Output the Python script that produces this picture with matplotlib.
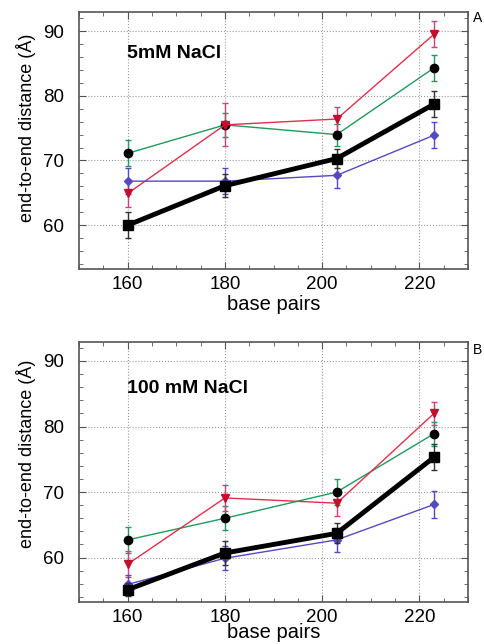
import numpy as np
import matplotlib.pyplot as plt
from matplotlib.ticker import MultipleLocator

plt.rcParams['font.family'] = ['Liberation Sans', 'DejaVu Sans']

base_pairs = [160, 180, 203, 223]

# 5 mM NaCl
low_black = [60.0, 66.1, 70.3, 78.7]
low_green = [71.1, 75.5, 74.0, 84.3]
low_red = [64.9, 75.5, 76.4, 89.5]
low_blue = [66.8, 66.8, 67.7, 73.9]
low_black_err = [2.0, 1.8, 1.5, 2.0]
low_green_err = [2.0, 1.8, 1.7, 2.0]
low_red_err = [2.1, 3.3, 1.9, 2.0]
low_blue_err = [2.0, 2.0, 2.0, 2.0]

# 100 mM NaCl
high_black = [55.1, 60.7, 63.7, 75.3]
high_green = [62.7, 66.0, 70.0, 78.9]
high_red = [59.0, 69.1, 68.3, 82.0]
high_blue = [55.9, 59.9, 62.7, 68.1]
high_black_err = [1.0, 1.8, 1.5, 2.0]
high_green_err = [2.0, 1.8, 2.0, 1.8]
high_red_err = [2.0, 2.0, 2.0, 1.8]
high_blue_err = [1.5, 1.8, 1.8, 2.0]

green = '#1f9a5c'
red = '#e0304c'
blue = '#5548c0'


def draw_panel(ax, black, green_v, red_v, blue_v, errs, title, title_y, ylab_y, xlab_pad):
    be, ge, re, ue = errs
    ax.errorbar(base_pairs, green_v, yerr=ge, color=green, marker='o', ms=6,
                mfc='black', mec='black', lw=1.0, capsize=2.5, elinewidth=1, zorder=3)
    ax.errorbar(base_pairs, red_v, yerr=re, color=red, marker='v', ms=6,
                mfc='#c0102c', mec='#c0102c', lw=1.0, capsize=2.5, elinewidth=1,
                ecolor='#d0407a', zorder=3)
    ax.errorbar(base_pairs, blue_v, yerr=ue, color=blue, marker='D', ms=4.5,
                lw=1.0, capsize=2.5, elinewidth=1, zorder=3)
    ax.errorbar(base_pairs, black, yerr=be, color='black', marker='s', ms=6.5,
                lw=3.5, capsize=2.5, elinewidth=1, ecolor='#333333', zorder=4)

    ax.set_xlim(150, 230)
    ax.set_ylim(53.2, 92.9)
    ax.xaxis.set_major_locator(MultipleLocator(20))
    ax.xaxis.set_minor_locator(MultipleLocator(5))
    ax.yaxis.set_major_locator(MultipleLocator(10))
    ax.yaxis.set_minor_locator(MultipleLocator(2))
    ax.tick_params(which='both', direction='in', top=True, right=True,
                   color='#555555', labelsize=13.5)
    ax.tick_params(which='major', length=5)
    ax.tick_params(which='minor', length=3)
    ax.tick_params(axis='x', pad=5)
    ax.tick_params(axis='y', pad=11)
    ax.grid(True, which='major', linestyle=':', color='#999999', lw=0.8)
    for s in ax.spines.values():
        s.set_color('#555555')
        s.set_linewidth(1.2)
    ax.set_xlabel('base pairs', fontsize=14.5, labelpad=xlab_pad)
    ax.set_ylabel('end-to-end distance (Å)', fontsize=13, labelpad=5)
    ax.yaxis.label.set_y(ylab_y)
    ax.text(0.123, title_y, title, transform=ax.transAxes, fontsize=14,
            fontweight='bold', va='center')


fig = plt.figure(figsize=(4.85, 6.44), dpi=100)
ax1 = fig.add_axes([0.163, 0.582, 0.802, 0.399])
ax2 = fig.add_axes([0.163, 0.065, 0.802, 0.404])

draw_panel(ax1, low_black, low_green, low_red, low_blue,
           (low_black_err, low_green_err, low_red_err, low_blue_err),
           '5mM NaCl', 0.84, 0.549, 1)
draw_panel(ax2, high_black, high_green, high_red, high_blue,
           (high_black_err, high_green_err, high_red_err, high_blue_err),
           '100 mM NaCl', 0.823, 0.57, -2)

fig.text(0.975, 1 - 18 / 644, 'A', fontsize=10, va='center', ha='left')
fig.text(0.975, 1 - 350 / 644, 'B', fontsize=10, va='center', ha='left')

fig.savefig('out.png', dpi=100)
